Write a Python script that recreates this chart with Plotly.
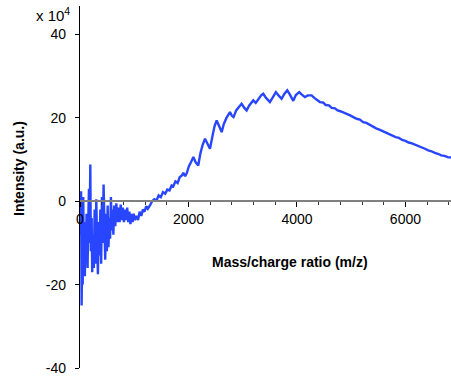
import plotly.graph_objects as go

# Spectrum trace: m/z values and intensity (x 10^4 a.u.)
mz = [
    0, 10, 20, 30, 40, 50, 60, 70, 80, 90, 100, 110, 120, 140, 150, 165, 175, 190,
    200, 215, 225, 240, 255, 270, 285, 300, 315, 330, 345, 360, 375, 390, 405, 420,
    435, 450, 465, 480, 495, 510, 525, 540, 555, 570, 585, 600, 615, 630, 650, 670,
    690, 710, 730, 750, 770, 790, 810, 830, 850, 870, 890, 910, 930, 950, 970, 990,
    1010, 1040, 1070, 1100, 1130, 1160, 1190, 1220, 1250, 1290, 1330, 1370, 1410,
    1450, 1490, 1530, 1570, 1610, 1650, 1690, 1720, 1760, 1800, 1840, 1880, 1905,
    1940, 1970, 2010, 2050, 2090, 2130, 2180, 2220, 2260, 2305, 2350, 2396, 2440,
    2480, 2520, 2560, 2612, 2650, 2700, 2765, 2800, 2830, 2880, 2930, 2980, 3030,
    3072, 3120, 3160, 3195, 3240, 3290, 3340, 3379, 3430, 3502, 3550, 3612, 3660,
    3717, 3770, 3821, 3870, 3932, 3980, 4042, 4090, 4147, 4200, 4270, 4320, 4370,
    4423, 4480, 4530, 4590, 4640, 4700, 4750, 4800, 4860, 4920, 4980, 5040, 5100,
    5160, 5220, 5280, 5340, 5400, 5460, 5520, 5580, 5640, 5700, 5760, 5820, 5880,
    5940, 6000, 6060, 6120, 6180, 6240, 6300, 6360, 6420, 6480, 6540, 6600, 6660,
    6720, 6780, 6840,
]
intensity = [
    0, -8, 2.4, -25, -12, -20, 1, -15, -5, -18, -8, -14, -3, -16, -6, 3, -10, 8.8,
    -12, -4, -17, -8, -16, -2, -15, 0.5, -9, -17.5, -5, -13, -2, -15, 1, -10,
    4, -8, -14, -3, -12, -1, -11, -4, -9, 1, -7, -2, -8, -1, -6, -0.5,
    -5, -1.5, -5, -0.8, -4.5, -1.5, -5, -2, -4.5, -1.5, -5, -2.5, -5.5, -3, -5, -3,
    -4.5, -3.5, -4.5, -2.5, -3.5, -2, -2.5, -1.2, -1.8, -1.0, 0, 0.5, 0.2,
    1.4, 1.0, 2.2, 1.8, 2.8, 2.6, 3.8, 3.6, 4.8, 4.4, 5.8, 6.2, 6.8,
    6.0, 6.8, 8.5, 9.5, 10.6, 9.4, 8.6, 11.5, 13.5, 15.0, 13.6, 12.6, 15.5,
    18.0, 19.4, 18.0, 16.6, 18.5, 20.0, 21.4, 20.5, 20.2, 21.8, 22.6, 23.4, 22.4,
    21.8, 23.0, 23.8, 24.2, 23.6, 24.6, 25.4, 25.8, 24.8, 23.8, 25.0, 26.2, 25.4,
    24.6, 25.8, 26.6, 25.6, 24.1, 25.5, 26.2, 25.6, 25.0, 25.4, 25.4, 24.8, 24.4,
    23.8, 23.7, 23.1, 23.0, 22.4, 22.3, 21.8, 21.6, 21.3, 20.9, 20.6, 20.2, 19.8,
    19.6, 19.0, 18.8, 18.3, 18.0, 17.5, 17.2, 16.8, 16.5, 16.1, 15.8, 15.4, 15.2,
    14.7, 14.5, 14.1, 13.9, 13.6, 13.2, 12.9, 12.6, 12.2, 12.0, 11.6, 11.4, 11.0,
    10.9, 10.6, 10.5,
]

x_ticks = [0, 2000, 4000, 6000]
y_ticks = [-40, -20, 0, 20, 40]

FONT = "Arial, Liberation Sans, sans-serif"
BLUE = "#2846ff"

# Plot-area geometry in pixels
L, R, T, B = 80, 0, 6, 11
W, H = 451, 379
plot_w = W - L - R
plot_h = H - T - B
Y_MIN, Y_MAX = -40, 46.85

fig = go.Figure()
fig.add_trace(go.Scatter(
    x=mz, y=intensity, mode="lines",
    line=dict(color=BLUE, width=2.4),
    hoverinfo="skip", showlegend=False,
))

fig.update_layout(
    width=W, height=H,
    margin=dict(l=L, r=R, t=T, b=B),
    paper_bgcolor="white", plot_bgcolor="white",
    font=dict(family=FONT, size=14, color="black"),
    xaxis=dict(
        range=[0, 6840], anchor="free", position=(0 - Y_MIN) / (Y_MAX - Y_MIN),
        tickvals=x_ticks, ticktext=[str(v) for v in x_ticks],
        ticks="outside", ticklen=5, tickwidth=1.3, tickcolor="black",
        minor=dict(dtick=400, tick0=0, ticks="outside", ticklen=3, tickwidth=1, tickcolor="#333"),
        showline=True, linecolor="#808080", linewidth=2,
        showgrid=False, zeroline=False,
        tickfont=dict(family=FONT, size=14),
    ),
    yaxis=dict(
        range=[Y_MIN, Y_MAX],
        tickvals=y_ticks, ticktext=[str(v) for v in y_ticks],
        ticks="outside", ticklen=4, tickwidth=1, tickcolor="black",
        showline=True, linecolor="black", linewidth=1.2,
        showgrid=False, zeroline=False,
        ticklabelstandoff=6,
        tickfont=dict(family=FONT, size=14),
    ),
    annotations=[
        dict(text="x 10<sup>4</sup>", xref="paper", yref="paper",
             x=(72 - L) / plot_w, y=(H - B - 15) / plot_h,
             xanchor="right", yanchor="middle", showarrow=False,
             font=dict(family=FONT, size=15)),
        dict(text="<b>Mass/charge ratio (m/z)</b>", showarrow=False,
             xref="paper", yref="paper",
             x=(290 - L) / plot_w, y=(H - B - 262) / plot_h,
             xanchor="center", yanchor="middle",
             font=dict(family=FONT, size=14)),
        dict(text="<b>Intensity (a.u.)</b>", textangle=-90, showarrow=False,
             xref="paper", yref="paper",
             x=(19 - L) / plot_w, y=(H - B - 169) / plot_h,
             xanchor="center", yanchor="middle",
             font=dict(family=FONT, size=14)),
    ],
)

fig.write_html("out.html")
